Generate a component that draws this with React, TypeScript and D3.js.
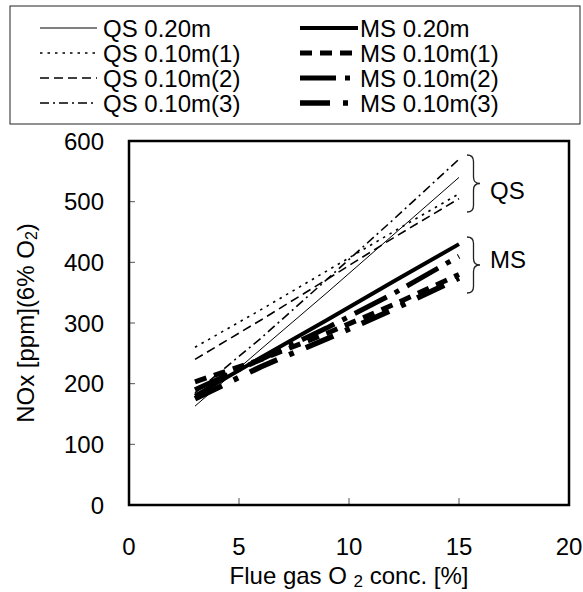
import React from "react";
import * as d3 from "d3";

const xValues = [3, 6, 9, 12, 15];
const qs020 = [163, 257, 350, 445, 540];
const qs010_1 = [260, 322, 386, 450, 513];
const qs010_2 = [240, 305, 372, 440, 505];
const qs010_3 = [185, 275, 372, 470, 570];
const ms020 = [180, 243, 305, 368, 430];
const ms010_1 = [203, 240, 283, 330, 380];
const ms010_2 = [190, 240, 292, 348, 410];
const ms010_3 = [175, 228, 274, 322, 374];

const seriesNames = [
  "QS 0.20m",
  "QS 0.10m(1)",
  "QS 0.10m(2)",
  "QS 0.10m(3)",
  "MS 0.20m",
  "MS 0.10m(1)",
  "MS 0.10m(2)",
  "MS 0.10m(3)",
];
const seriesValues = [qs020, qs010_1, qs010_2, qs010_3, ms020, ms010_1, ms010_2, ms010_3];
const styles = [
  { w: 1, dash: "" },
  { w: 1.6, dash: "2.5,5" },
  { w: 1.6, dash: "9,5" },
  { w: 1.6, dash: "9,4,2,4" },
  { w: 4, dash: "" },
  { w: 5, dash: "12,8" },
  { w: 5, dash: "36,9,5,9" },
  { w: 5.5, dash: "30,13,5,13" },
];

const xTicks = [0, 5, 10, 15, 20];
const yTicks = [0, 100, 200, 300, 400, 500, 600];

const FONT = "'Liberation Sans', Arial, sans-serif";

export default function App() {
  const W = 583, H = 592;
  const x = d3.scaleLinear().domain([0, 20]).range([129, 569]);
  const y = d3.scaleLinear().domain([0, 600]).range([505, 141]);
  const line = d3
    .line<[number, number]>()
    .x((d) => x(d[0]))
    .y((d) => y(d[1]));

  const bracePath = (bx: number, top: number, bottom: number, w: number) => {
    const mid = (top + bottom) / 2;
    const r = w / 2;
    return `M${bx},${top} Q${bx + r},${top} ${bx + r},${top + r} L${bx + r},${mid - r} Q${bx + r},${mid} ${bx + w},${mid} Q${bx + r},${mid} ${bx + r},${mid + r} L${bx + r},${bottom - r} Q${bx + r},${bottom} ${bx},${bottom}`;
  };

  return (
    <svg width={W} height={H} style={{ position: "absolute", left: 0, top: 0 }} fontFamily={FONT}>
      <rect width={W} height={H} fill="#fff" />
      {/* legend */}
      <rect x={10} y={6} width={570} height={118} fill="none" stroke="#222" strokeWidth={1} />
      {seriesNames.map((n, i) => {
        const col = i < 4 ? 0 : 1;
        const row = i % 4;
        const ly = 28 + row * 25;
        const x0 = col === 0 ? 40 : 300;
        const x1 = col === 0 ? 97 : 358;
        const tx = col === 0 ? 103 : 360;
        return (
          <g key={n}>
            <line x1={x0} x2={x1} y1={ly} y2={ly} stroke="#000" strokeWidth={styles[i].w} strokeDasharray={styles[i].dash} />
            <text x={tx} y={ly + 8.5} fontSize={24} fill="#000">{n}</text>
          </g>
        );
      })}
      {/* ticks */}
      {yTicks.slice(1, -1).map((t) => (
        <line key={"yt" + t} x1={x(0)} x2={x(0) + 6} y1={y(t)} y2={y(t)} stroke="#555" strokeWidth={1} />
      ))}
      {xTicks.slice(1, -1).map((t) => (
        <line key={"xt" + t} x1={x(t)} x2={x(t)} y1={y(0)} y2={y(0) - 7} stroke="#555" strokeWidth={1} />
      ))}
      {/* series */}
      {seriesValues.map((vals, i) => (
        <path
          key={seriesNames[i]}
          d={line(xValues.map((xv, j) => [xv, vals[j]] as [number, number])) || ""}
          fill="none"
          stroke="#000"
          strokeWidth={styles[i].w}
          strokeDasharray={styles[i].dash}
        />
      ))}
      {/* frame */}
      <rect x={x(0)} y={y(600)} width={x(20) - x(0)} height={y(0) - y(600)} fill="none" stroke="#000" strokeWidth={2.5} />
      {/* tick labels */}
      {yTicks.map((t) => (
        <text key={"yl" + t} x={104} y={y(t) + 8.5} fontSize={24} textAnchor="end" fill="#000">{t}</text>
      ))}
      {xTicks.map((t) => (
        <text key={"xl" + t} x={x(t)} y={555} fontSize={24} textAnchor="middle" fill="#000">{t}</text>
      ))}
      {/* axis titles */}
      <text x={x(10)} y={584} fontSize={24} textAnchor="middle" fill="#000">
        Flue gas O <tspan fontSize={17} dy={3}>2</tspan><tspan dy={-3}> conc. [%]</tspan>
      </text>
      <text transform={`translate(34,${(y(0) + y(600)) / 2}) rotate(-90)`} fontSize={24} textAnchor="middle" fill="#000">
        NOx [ppm](6% O<tspan fontSize={16} dy={3}>2</tspan><tspan dy={-3}>)</tspan>
      </text>
      {/* braces */}
      <path d={bracePath(467, 155, 212, 13)} fill="none" stroke="#222" strokeWidth={1.3} />
      <text x={490} y={199} fontSize={24} fill="#000">QS</text>
      <path d={bracePath(467, 237, 293, 13)} fill="none" stroke="#222" strokeWidth={1.3} />
      <text x={490} y={268} fontSize={24} fill="#000">MS</text>
    </svg>
  );
}
